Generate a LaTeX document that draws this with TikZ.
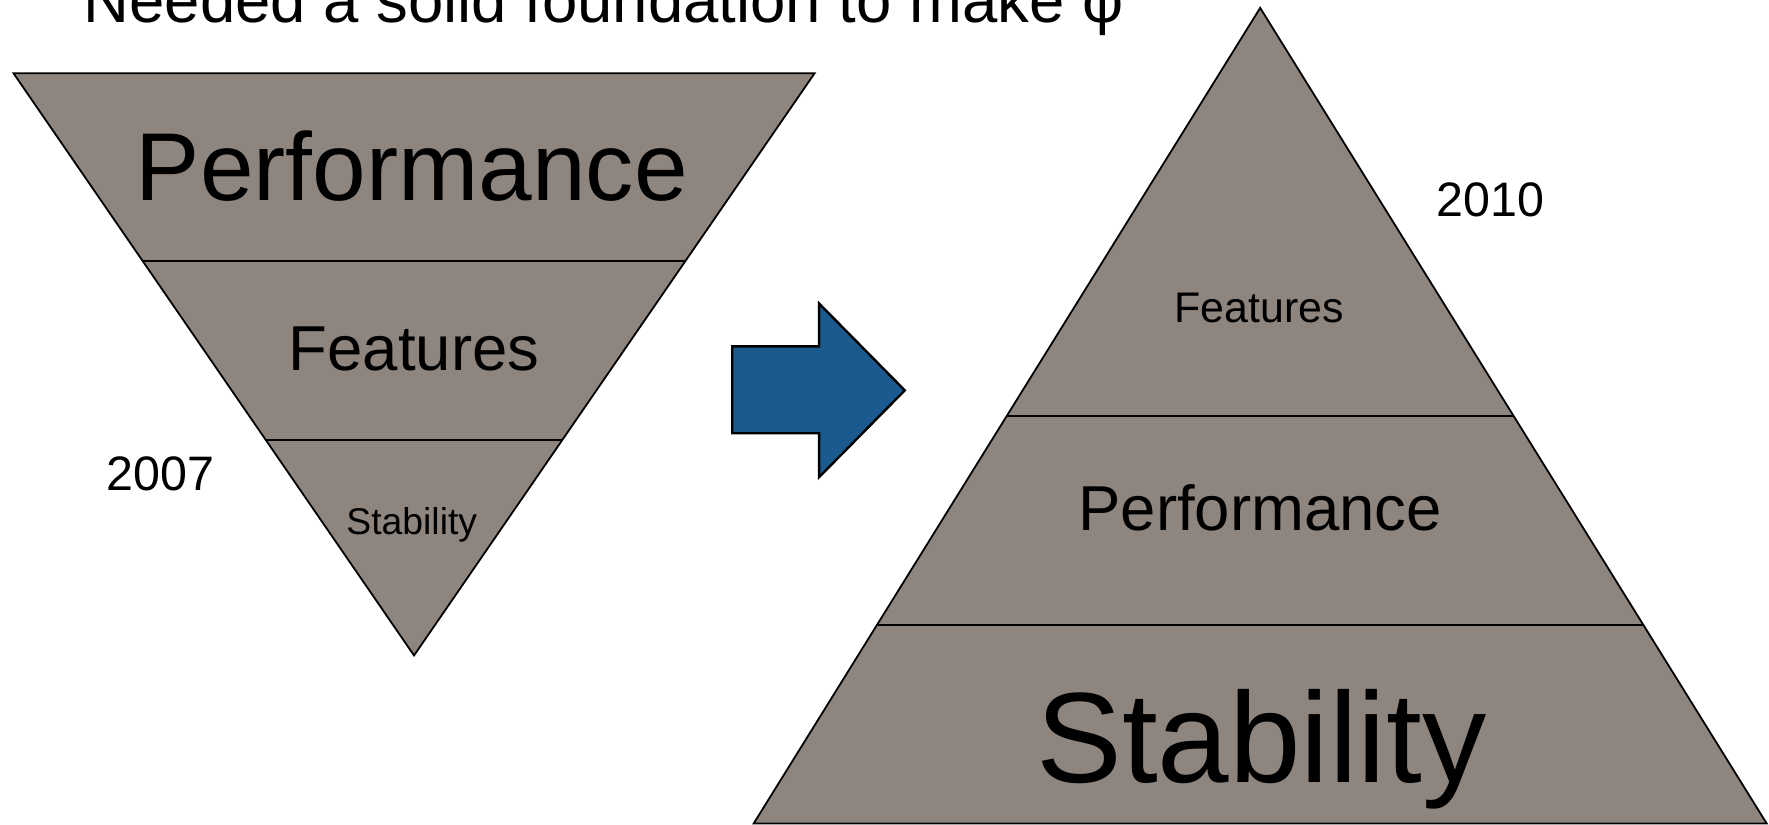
\documentclass[tikz,border=0pt]{standalone}
\usepackage{fontspec}
\setmainfont{Liberation Sans}
\usetikzlibrary{calc}

\definecolor{layergray}{RGB}{142,133,127}
\definecolor{arrowblue}{RGB}{26,90,142}
\newcommand{\textsz}[1]{\fontsize{#1}{#1}\selectfont}

\begin{document}
\begin{tikzpicture}[x=0.01cm, y=-0.01cm,
    layer/.style={fill=layergray, draw=black, line width=0.45pt},
    divider/.style={draw=black, line width=0.45pt},
    txt/.style={anchor=base, inner sep=0pt}]
    \useasboundingbox (0,0) rectangle (1568,731);

    % Title (cut off at the top)
    \node[txt, font=\textsz{16pt}] (title) at (535,20) {Needed a solid foundation to make φ};

    % 2007: pyramid upside down
    \coordinate (oldL) at (12,65);
    \coordinate (oldR) at (722,65);
    \coordinate (oldTip) at (367,581);
    \filldraw[layer] (oldL) -- (oldR) -- (oldTip) -- cycle;
    \draw[divider] ($(oldL)!0.322!(oldTip)$) -- ($(oldR)!0.322!(oldTip)$);
    \draw[divider] ($(oldL)!0.63!(oldTip)$) -- ($(oldR)!0.63!(oldTip)$);
    \node[txt, font=\textsz{24.3pt}] (oldPerf) at (365,178) {Performance};
    \node[txt, font=\textsz{16pt}] (oldFeat) at (367,328) {Features};
    \node[txt, font=\textsz{9.4pt}] (oldStab) at (365,474) {Stability};
    \node[txt, font=\textsz{12.2pt}] (year07) at (142,435) {2007};

    % Arrow
    \filldraw[fill=arrowblue, draw=black, line width=0.6pt]
        (649,307) -- (726,307) -- (726,269) -- (802,346)
        -- (726,423) -- (726,384) -- (649,384) -- cycle;

    % 2010: pyramid the right way up
    \coordinate (newTop) at (1117,7);
    \coordinate (newL) at (668,730);
    \coordinate (newR) at (1566,730);
    \filldraw[layer] (newTop) -- (newR) -- (newL) -- cycle;
    \draw[divider] ($(newTop)!0.5007!(newL)$) -- ($(newTop)!0.5007!(newR)$);
    \draw[divider] ($(newTop)!0.7566!(newL)$) -- ($(newTop)!0.7566!(newR)$);
    \node[txt, font=\textsz{10.8pt}] (newFeat) at (1116,286) {Features};
    \node[txt, font=\textsz{16pt}] (newPerf) at (1117,470) {Performance};
    \node[txt, font=\textsz{32.4pt}] (newStab) at (1118,694) {Stability};
    \node[txt, font=\textsz{12.2pt}] (year10) at (1321,192) {2010};
\end{tikzpicture}
\end{document}
